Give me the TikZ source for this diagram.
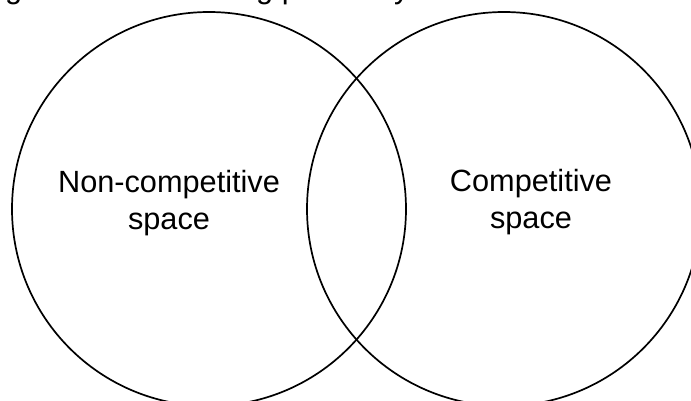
\documentclass[tikz,border=0pt]{standalone}
\usepackage{fontspec}
\setmainfont{Liberation Sans}
\begin{document}
\begin{tikzpicture}[x=1pt,y=-1pt,
  setcircle/.style={draw=black,line width=1.7pt},
  setlabel/.style={font=\fontsize{30.7}{37}\selectfont,align=center,inner sep=0pt,anchor=north},
  clipped/.style={font=\fontsize{30.7}{37}\selectfont,inner sep=0pt,anchor=base west}]
  \useasboundingbox (0,0) rectangle (691,401);
  \clip (0,0) rectangle (691,401);
  % descenders of the caption line above
  \node[clipped] (capA) at (5,-1.5) {g};
  \node[clipped] (capB) at (256,-1.5) {g p};
  \node[clipped] (capC) at (394,-1.5) {y};
  % the two overlapping sets
  \draw[setcircle] (209,209) circle[radius=197];
  \draw[setcircle] (504,209) circle[radius=197];
  \node[setlabel] (noncomp) at (169,170) {Non-competitive\\space};
  \node[setlabel] (comp) at (531,169.5) {Competitive\\space};
\end{tikzpicture}
\end{document}
